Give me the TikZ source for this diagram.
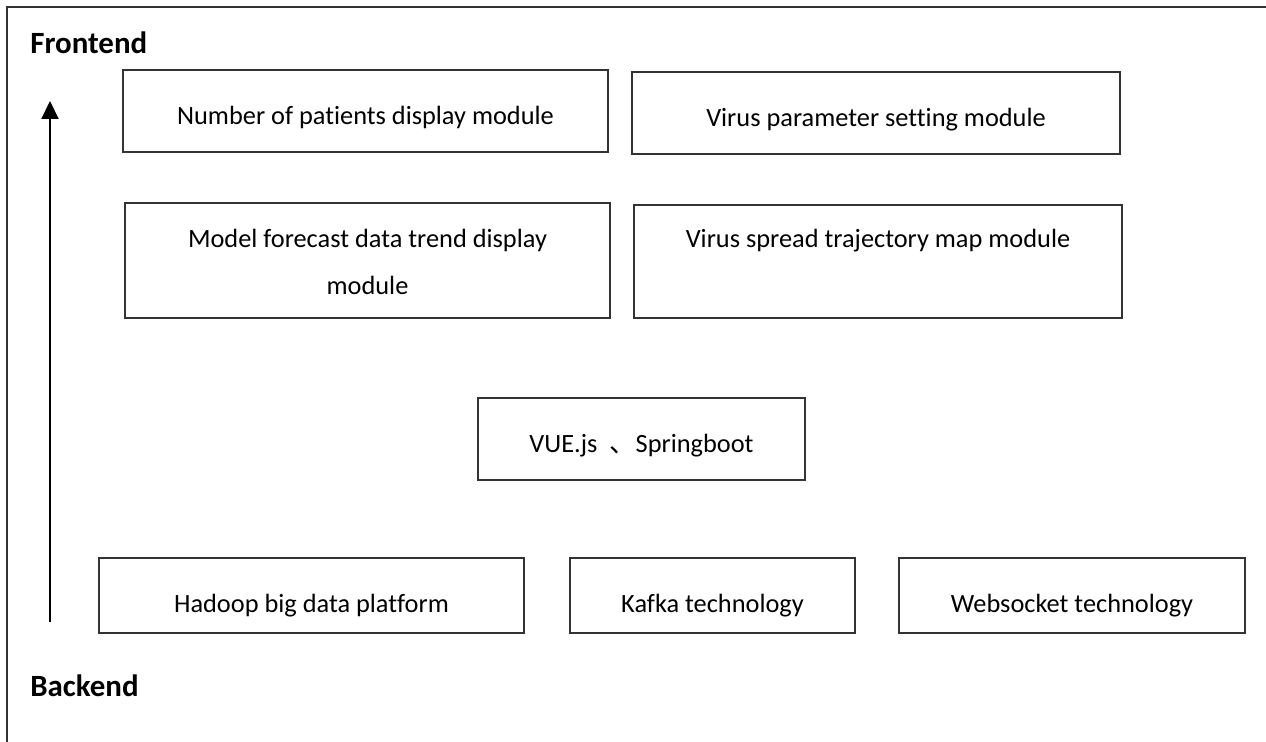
\documentclass[tikz,border=0pt]{standalone}
\usepackage{fontspec}
\setmainfont[Ligatures={NoCommon}]{Carlito}
\newfontfamily\cjk{Noto Sans CJK SC}
\usetikzlibrary{arrows.meta}

\begin{document}
\begin{tikzpicture}[x=0.02cm, y=-0.02cm, font=\fontsize{15}{18}\selectfont,
  box/.style={draw=black!80, line width=1pt, align=center, text height=17pt, text depth=2pt},
  low/.style={text height=21pt},
  toptext/.style={anchor=north, align=center, yshift=-11pt},
  side/.style={font=\fontsize{17.6}{20}\selectfont\bfseries, anchor=west, inner sep=0pt}]
  \useasboundingbox (0,0) rectangle (1266,742);

  % Rahmen
  \draw[black!80, line width=1pt] (7,742) -- (7,7) -- (1266,7);

  % Frontend / Backend
  \node[side] (front) at (30,43) {Frontend};
  \node[side] (back) at (30,686) {Backend};

  % Pfeil
  \coordinate (arrbot) at (50,622);
  \coordinate (arrtop) at (50,101);
  \draw[line width=1.2pt, -{Triangle[width=0.34cm,length=0.36cm]}] (arrbot) -- (arrtop);

  % Module oben
  \node[box, minimum width=9.70cm, minimum height=1.64cm] (patients) at (365.5,111) {Number of patients display module};
  \node[box, minimum width=9.76cm, minimum height=1.64cm] (virusparam) at (876,113) {Virus parameter setting module};
  \node[box, minimum width=9.70cm, minimum height=2.30cm,
    label={[toptext, yshift=-1pt]north:{Model forecast data trend display\\[8.5pt]module}}] (forecast) at (367.5,260.5) {};
  \node[box, minimum width=9.76cm, minimum height=2.26cm,
    label={[toptext]north:{Virus spread trajectory map module}}] (spreadmap) at (878,261.5) {};

  % Mitte
  \node[box, minimum width=6.54cm, minimum height=1.64cm] (vue) at (641.5,439) {VUE.js\ \ {\cjk 、}Springboot};

  % Unten
  \node[box, low, minimum width=8.50cm, minimum height=1.50cm] (hadoop) at (311.5,595.5) {Hadoop big data platform};
  \node[box, low, minimum width=5.70cm, minimum height=1.50cm] (kafka) at (712.5,595.5) {Kafka technology};
  \node[box, low, minimum width=6.92cm, minimum height=1.50cm] (websocket) at (1072,595.5) {Websocket technology};
\end{tikzpicture}
\end{document}
